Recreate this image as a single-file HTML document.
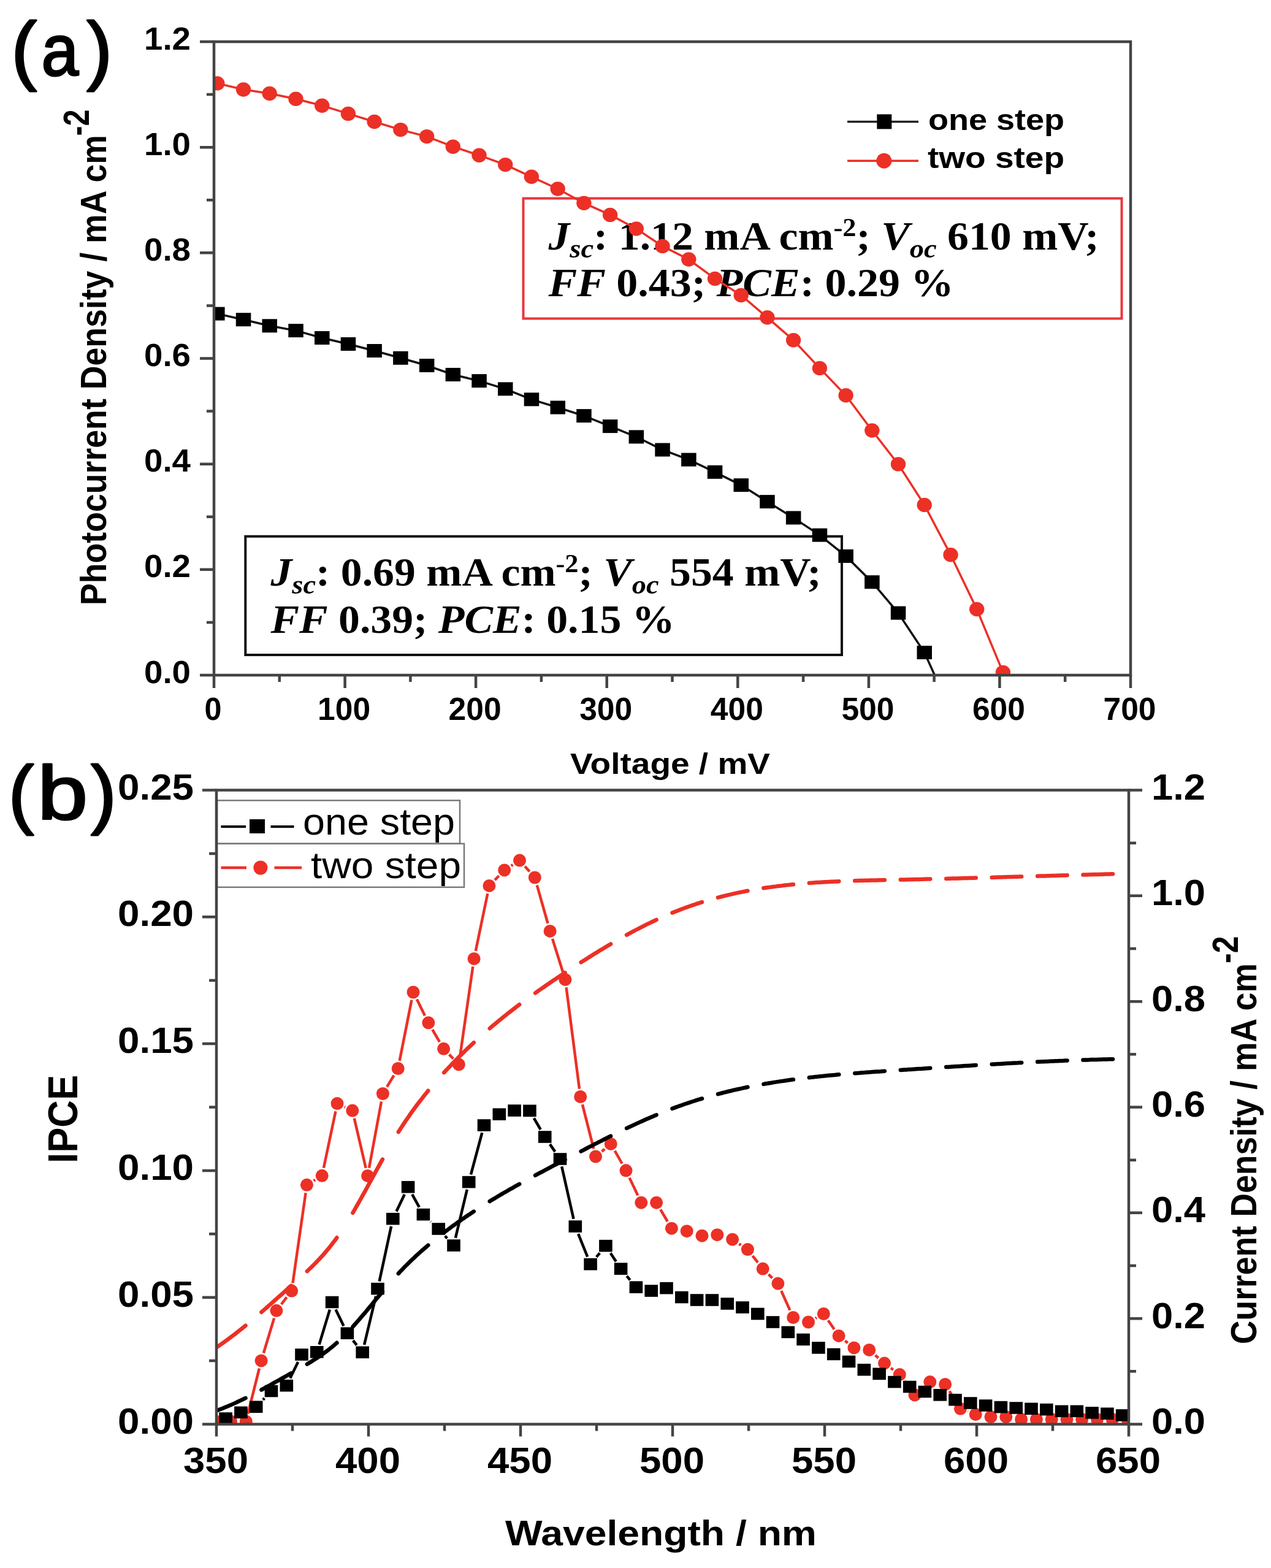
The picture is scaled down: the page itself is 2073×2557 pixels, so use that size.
<!DOCTYPE html>
<html><head><meta charset="utf-8"><title>Figure</title>
<style>html,body{margin:0;padding:0;background:#fff;}svg{display:block;}</style></head>
<body><svg width="2073" height="2557" viewBox="0 0 2073 2557">
<rect width="2073" height="2557" fill="#fff"/>
<path d="M326,1101.0H349M337,1014.9H349M326,928.8H349M337,842.8H349M326,756.7H349M337,670.6H349M326,584.5H349M337,498.4H349M326,412.3H349M337,326.3H349M326,240.2H349M337,154.1H349M326,68.0H349M349.0,1101V1122M455.8,1101V1112M562.6,1101V1122M669.4,1101V1112M776.1,1101V1122M882.9,1101V1112M989.7,1101V1122M1096.5,1101V1112M1203.3,1101V1122M1310.1,1101V1112M1416.9,1101V1122M1523.6,1101V1112M1630.4,1101V1122M1737.2,1101V1112M1844.0,1101V1122" stroke="#444" stroke-width="4.5" fill="none"/>
<rect x="853.5" y="323.5" width="976" height="196" fill="none" stroke="#e8383d" stroke-width="4"/>
<rect x="400.3" y="874.7" width="972.7" height="193.3" fill="none" stroke="#111" stroke-width="4"/>
<text x="894.5" y="406.5" font-family="'Liberation Serif', 'Times New Roman', serif" font-weight="bold" font-size="66" textLength="898" lengthAdjust="spacingAndGlyphs"><tspan font-style="italic">J</tspan><tspan font-style="italic" font-size="44" dy="13">sc</tspan><tspan dy="-13">: 1.12 mA cm</tspan><tspan font-size="42" dy="-22">-2</tspan><tspan dy="22">; </tspan><tspan font-style="italic">V</tspan><tspan font-style="italic" font-size="44" dy="13">oc</tspan><tspan dy="-13"> 610 mV;</tspan></text><text x="894.5" y="482.8" font-family="'Liberation Serif', 'Times New Roman', serif" font-weight="bold" font-size="66" textLength="661" lengthAdjust="spacingAndGlyphs"><tspan font-style="italic">FF</tspan> 0.43; <tspan font-style="italic">PCE</tspan>: 0.29 %</text>
<text x="441.5" y="954.6" font-family="'Liberation Serif', 'Times New Roman', serif" font-weight="bold" font-size="66" textLength="898" lengthAdjust="spacingAndGlyphs"><tspan font-style="italic">J</tspan><tspan font-style="italic" font-size="44" dy="13">sc</tspan><tspan dy="-13">: 0.69 mA cm</tspan><tspan font-size="42" dy="-22">-2</tspan><tspan dy="22">; </tspan><tspan font-style="italic">V</tspan><tspan font-style="italic" font-size="44" dy="13">oc</tspan><tspan dy="-13"> 554 mV;</tspan></text><text x="441.5" y="1031.9" font-family="'Liberation Serif', 'Times New Roman', serif" font-weight="bold" font-size="66" textLength="659" lengthAdjust="spacingAndGlyphs"><tspan font-style="italic">FF</tspan> 0.39; <tspan font-style="italic">PCE</tspan>: 0.15 %</text>
<defs><clipPath id="ca"><rect x="349" y="68" width="1495" height="1033"/></clipPath><clipPath id="cb"><rect x="353" y="1288.5" width="1488" height="1034"/></clipPath></defs>
<g clip-path="url(#ca)">
<polyline points="354.3,511.6 397.0,521.2 439.7,531.3 482.5,539.1 525.2,551 567.9,561 610.6,572 653.3,583.8 696.1,596 738.8,610.9 781.5,621.1 824.2,634.3 866.9,651.3 909.7,664.5 952.4,678.1 995.1,695.1 1037.8,712.4 1080.5,733.5 1123.3,749.6 1166.0,769.8 1208.7,791.1 1251.4,818.1 1294.1,844.4 1336.9,872.6 1379.6,906.9 1422.3,949.2 1465.0,999.6 1507.7,1064.1 1524,1100" fill="none" stroke="#111" stroke-width="3.5"/>
<polyline points="354.3,135.9 397.0,146 439.7,152.5 482.5,161.3 525.2,172.2 567.9,185.4 610.6,198.5 653.3,211.6 696.1,222.6 738.8,239.2 781.5,253.2 824.2,268.6 866.9,288.3 909.7,308 952.4,331.2 995.1,350.4 1037.8,373 1080.5,401.4 1123.3,423 1166.0,454.4 1208.7,481.5 1251.4,517.7 1294.1,554.8 1336.9,600.4 1379.6,644.8 1422.3,702 1465.0,756.9 1507.7,823.4 1550.5,904.8 1593.2,993.5 1635.9,1096.4" fill="none" stroke="#ec3026" stroke-width="3.5"/>
<g fill="#000"><rect x="342.1" y="500.6" width="24.5" height="22"/><rect x="384.8" y="510.2" width="24.5" height="22"/><rect x="427.5" y="520.3" width="24.5" height="22"/><rect x="470.3" y="528.1" width="24.5" height="22"/><rect x="513.0" y="540.0" width="24.5" height="22"/><rect x="555.7" y="550.0" width="24.5" height="22"/><rect x="598.4" y="561.0" width="24.5" height="22"/><rect x="641.1" y="572.8" width="24.5" height="22"/><rect x="683.9" y="585.0" width="24.5" height="22"/><rect x="726.6" y="599.9" width="24.5" height="22"/><rect x="769.3" y="610.1" width="24.5" height="22"/><rect x="812.0" y="623.3" width="24.5" height="22"/><rect x="854.7" y="640.3" width="24.5" height="22"/><rect x="897.5" y="653.5" width="24.5" height="22"/><rect x="940.2" y="667.1" width="24.5" height="22"/><rect x="982.9" y="684.1" width="24.5" height="22"/><rect x="1025.6" y="701.4" width="24.5" height="22"/><rect x="1068.3" y="722.5" width="24.5" height="22"/><rect x="1111.1" y="738.6" width="24.5" height="22"/><rect x="1153.8" y="758.8" width="24.5" height="22"/><rect x="1196.5" y="780.1" width="24.5" height="22"/><rect x="1239.2" y="807.1" width="24.5" height="22"/><rect x="1281.9" y="833.4" width="24.5" height="22"/><rect x="1324.7" y="861.6" width="24.5" height="22"/><rect x="1367.4" y="895.9" width="24.5" height="22"/><rect x="1410.1" y="938.2" width="24.5" height="22"/><rect x="1452.8" y="988.6" width="24.5" height="22"/><rect x="1495.5" y="1053.1" width="24.5" height="22"/></g>
<g fill="#ec3026"><ellipse cx="354.3" cy="135.9" rx="12.2" ry="11.7"/><ellipse cx="397.0" cy="146" rx="12.2" ry="11.7"/><ellipse cx="439.7" cy="152.5" rx="12.2" ry="11.7"/><ellipse cx="482.5" cy="161.3" rx="12.2" ry="11.7"/><ellipse cx="525.2" cy="172.2" rx="12.2" ry="11.7"/><ellipse cx="567.9" cy="185.4" rx="12.2" ry="11.7"/><ellipse cx="610.6" cy="198.5" rx="12.2" ry="11.7"/><ellipse cx="653.3" cy="211.6" rx="12.2" ry="11.7"/><ellipse cx="696.1" cy="222.6" rx="12.2" ry="11.7"/><ellipse cx="738.8" cy="239.2" rx="12.2" ry="11.7"/><ellipse cx="781.5" cy="253.2" rx="12.2" ry="11.7"/><ellipse cx="824.2" cy="268.6" rx="12.2" ry="11.7"/><ellipse cx="866.9" cy="288.3" rx="12.2" ry="11.7"/><ellipse cx="909.7" cy="308" rx="12.2" ry="11.7"/><ellipse cx="952.4" cy="331.2" rx="12.2" ry="11.7"/><ellipse cx="995.1" cy="350.4" rx="12.2" ry="11.7"/><ellipse cx="1037.8" cy="373" rx="12.2" ry="11.7"/><ellipse cx="1080.5" cy="401.4" rx="12.2" ry="11.7"/><ellipse cx="1123.3" cy="423" rx="12.2" ry="11.7"/><ellipse cx="1166.0" cy="454.4" rx="12.2" ry="11.7"/><ellipse cx="1208.7" cy="481.5" rx="12.2" ry="11.7"/><ellipse cx="1251.4" cy="517.7" rx="12.2" ry="11.7"/><ellipse cx="1294.1" cy="554.8" rx="12.2" ry="11.7"/><ellipse cx="1336.9" cy="600.4" rx="12.2" ry="11.7"/><ellipse cx="1379.6" cy="644.8" rx="12.2" ry="11.7"/><ellipse cx="1422.3" cy="702" rx="12.2" ry="11.7"/><ellipse cx="1465.0" cy="756.9" rx="12.2" ry="11.7"/><ellipse cx="1507.7" cy="823.4" rx="12.2" ry="11.7"/><ellipse cx="1550.5" cy="904.8" rx="12.2" ry="11.7"/><ellipse cx="1593.2" cy="993.5" rx="12.2" ry="11.7"/><ellipse cx="1635.9" cy="1096.4" rx="12.2" ry="11.7"/></g>
</g>
<rect x="349" y="68" width="1495" height="1033" fill="none" stroke="#444" stroke-width="4.5"/>
<path d="M1382,198.4H1498" stroke="#222" stroke-width="3.5"/><rect x="1430.3" y="186.4" width="24" height="24" fill="#000"/>
<path d="M1382,262.2H1498" stroke="#ec3026" stroke-width="3.5"/><circle cx="1441.8" cy="262.2" r="12.5" fill="#ec3026"/>
<text x="1514" y="212.2" font-family="'Liberation Sans', Arial, sans-serif" font-weight="bold" font-size="48" textLength="222" lengthAdjust="spacingAndGlyphs">one step</text>
<text x="1513" y="274.4" font-family="'Liberation Sans', Arial, sans-serif" font-weight="bold" font-size="48" textLength="223" lengthAdjust="spacingAndGlyphs">two step</text>
<text x="311" y="1113.5" text-anchor="end" font-family="'Liberation Sans', Arial, sans-serif" font-weight="bold" font-size="52" textLength="76" lengthAdjust="spacingAndGlyphs">0.0</text>
<text x="311" y="941.3" text-anchor="end" font-family="'Liberation Sans', Arial, sans-serif" font-weight="bold" font-size="52" textLength="76" lengthAdjust="spacingAndGlyphs">0.2</text>
<text x="311" y="769.2" text-anchor="end" font-family="'Liberation Sans', Arial, sans-serif" font-weight="bold" font-size="52" textLength="76" lengthAdjust="spacingAndGlyphs">0.4</text>
<text x="311" y="597.0" text-anchor="end" font-family="'Liberation Sans', Arial, sans-serif" font-weight="bold" font-size="52" textLength="76" lengthAdjust="spacingAndGlyphs">0.6</text>
<text x="311" y="424.8" text-anchor="end" font-family="'Liberation Sans', Arial, sans-serif" font-weight="bold" font-size="52" textLength="76" lengthAdjust="spacingAndGlyphs">0.8</text>
<text x="311" y="252.7" text-anchor="end" font-family="'Liberation Sans', Arial, sans-serif" font-weight="bold" font-size="52" textLength="76" lengthAdjust="spacingAndGlyphs">1.0</text>
<text x="311" y="80.5" text-anchor="end" font-family="'Liberation Sans', Arial, sans-serif" font-weight="bold" font-size="52" textLength="76" lengthAdjust="spacingAndGlyphs">1.2</text>
<text x="347.5" y="1173.5" text-anchor="middle" font-family="'Liberation Sans', Arial, sans-serif" font-weight="bold" font-size="51" textLength="28" lengthAdjust="spacingAndGlyphs">0</text>
<text x="561.1" y="1173.5" text-anchor="middle" font-family="'Liberation Sans', Arial, sans-serif" font-weight="bold" font-size="51" textLength="86" lengthAdjust="spacingAndGlyphs">100</text>
<text x="774.6" y="1173.5" text-anchor="middle" font-family="'Liberation Sans', Arial, sans-serif" font-weight="bold" font-size="51" textLength="86" lengthAdjust="spacingAndGlyphs">200</text>
<text x="988.2" y="1173.5" text-anchor="middle" font-family="'Liberation Sans', Arial, sans-serif" font-weight="bold" font-size="51" textLength="86" lengthAdjust="spacingAndGlyphs">300</text>
<text x="1201.8" y="1173.5" text-anchor="middle" font-family="'Liberation Sans', Arial, sans-serif" font-weight="bold" font-size="51" textLength="86" lengthAdjust="spacingAndGlyphs">400</text>
<text x="1415.4" y="1173.5" text-anchor="middle" font-family="'Liberation Sans', Arial, sans-serif" font-weight="bold" font-size="51" textLength="86" lengthAdjust="spacingAndGlyphs">500</text>
<text x="1628.9" y="1173.5" text-anchor="middle" font-family="'Liberation Sans', Arial, sans-serif" font-weight="bold" font-size="51" textLength="86" lengthAdjust="spacingAndGlyphs">600</text>
<text x="1842.5" y="1173.5" text-anchor="middle" font-family="'Liberation Sans', Arial, sans-serif" font-weight="bold" font-size="51" textLength="86" lengthAdjust="spacingAndGlyphs">700</text>
<text x="1093" y="1262.1" text-anchor="middle" font-family="'Liberation Sans', Arial, sans-serif" font-weight="bold" font-size="49" textLength="326" lengthAdjust="spacingAndGlyphs">Voltage / mV</text>
<text transform="translate(172.5,987) rotate(-90)" font-family="'Liberation Sans', Arial, sans-serif" font-weight="bold" font-size="59" textLength="767" lengthAdjust="spacingAndGlyphs">Photocurrent Density / mA cm</text>
<text transform="translate(144.5,221.5) rotate(-90)" font-family="'Liberation Sans', Arial, sans-serif" font-weight="bold" font-size="60" textLength="43" lengthAdjust="spacingAndGlyphs">-2</text>
<g font-family="'Liberation Sans', Arial, sans-serif" stroke="#000" stroke-width="3" stroke-linejoin="round"><text x="18.6" y="122.7" font-size="124.5">(</text><text x="67.6" y="122.5" font-size="118" textLength="60.7" lengthAdjust="spacingAndGlyphs">a</text><text x="141.6" y="122.7" font-size="124.5">)</text></g>
<path d="M330,2322.5H353M341,2219.1H353M330,2115.7H353M341,2012.3H353M330,1908.9H353M341,1805.5H353M330,1702.1H353M341,1598.7H353M330,1495.3H353M341,1391.9H353M330,1288.5H353M1841,2322.5H1863M1841,2236.3H1853M1841,2150.2H1863M1841,2064.0H1853M1841,1977.8H1863M1841,1891.7H1853M1841,1805.5H1863M1841,1719.3H1853M1841,1633.2H1863M1841,1547.0H1853M1841,1460.8H1863M1841,1374.7H1853M1841,1288.5H1863M353.0,2322.5V2342.5M477.0,2322.5V2333.5M601.0,2322.5V2342.5M725.0,2322.5V2333.5M849.0,2322.5V2342.5M973.0,2322.5V2333.5M1097.0,2322.5V2342.5M1221.0,2322.5V2333.5M1345.0,2322.5V2342.5M1469.0,2322.5V2333.5M1593.0,2322.5V2342.5M1717.0,2322.5V2333.5M1841.0,2322.5V2342.5" stroke="#444" stroke-width="4.5" fill="none"/>
<rect x="354" y="1305.3" width="396" height="70.5" fill="none" stroke="#7a7a7a" stroke-width="2.5"/>
<rect x="354" y="1375.8" width="403" height="71" fill="none" stroke="#7a7a7a" stroke-width="2.5"/>
<g clip-path="url(#cb)">
<path d="M404.4,2305.4L422.9,2231.5M429.9,2206.5L447.1,2149.7M458.8,2127.0L467.7,2115.4M477.5,2092.2L498.6,1945.2M511.6,1925.6L514.1,1924.0M527.9,1904.6L547.4,1812.3M561.8,1805.1L563.0,1805.6M577.8,1823.8L596.7,1904.7M602.0,1904.6L622.0,1796.3M631.1,1772.4L642.5,1753.6M651.7,1729.8L671.4,1630.7M679.8,1629.6L693.0,1656.2M705.3,1679.0L717.0,1699.1M732.6,1719.6L739.3,1726.5M750.2,1722.9L771.3,1576.3M775.8,1550.7L795.3,1457.1M807.0,1435.1L813.7,1428.2M833.7,1411.9L836.5,1410.1M856.1,1412.8L863.7,1421.3M875.8,1443.5L893.5,1505.9M901.0,1530.8L918.0,1585.0M923.6,1610.3L945.0,1775.6M949.9,1801.1L968.3,1873.4M981.5,1877.7L986.3,1873.7M1002.7,1876.7L1014.6,1897.5M1026.6,1920.6L1040.3,1949.4M1077.2,1972.4L1088.8,1992.0M1205.4,2028.4L1208.5,2030.4M1227.4,2047.8L1236.1,2058.9M1253.5,2078.1L1259.6,2084.1M1274.2,2105.0L1288.4,2136.6M1329.9,2149.8L1331.9,2148.7M1350.7,2153.2L1360.7,2167.7M1378.3,2186.4L1382.7,2189.9M1427.5,2210.0L1432.7,2214.5M1452.9,2230.9L1456.8,2233.8M1475.0,2252.0L1484.3,2264.4M1501.9,2266.4L1507.0,2262.0M1548.5,2268.5L1559.5,2286.3M1578.6,2301.8L1579.0,2302.0" fill="none" stroke="#ec3026" stroke-width="4.5"/>
<path d="M428.9,2282.6L431.3,2280.1M473.2,2247.6L486.1,2221.0M520.6,2192.6L537.9,2135.7M547.5,2135.5L560.5,2162.2M575.8,2186.0L581.8,2193.5M594.1,2193.1L613.1,2113.8M618.7,2089.4L638.1,1999.8M646.5,1975.5L659.8,1947.8M672.2,1947.7L683.8,1968.6M702.6,1992.1L703.0,1992.5M725.8,2015.6L729.3,2019.4M742.9,2018.8L761.8,1939.8M768.0,1915.4L786.3,1847.2M870.8,1823.3L881.7,1842.0M896.9,1865.9L905.3,1878.1M916.2,1902.2L935.5,1987.8M943.1,2012.1L958.2,2049.5M972.8,2049.9L978.2,2043.3M995.7,2043.5L1004.8,2057.2M1022.3,2080.8L1027.7,2087.4" fill="none" stroke="#000" stroke-width="4.5"/>
<g fill="#ec3026"><circle cx="351.7" cy="2318" r="10.5"/><circle cx="376.5" cy="2318" r="10.5"/><circle cx="401.3" cy="2318" r="10.5"/><circle cx="426.1" cy="2218.9" r="10.5"/><circle cx="450.9" cy="2137.3" r="10.5"/><circle cx="475.7" cy="2105.1" r="10.5"/><circle cx="500.4" cy="1932.3" r="10.5"/><circle cx="525.2" cy="1917.3" r="10.5"/><circle cx="550.0" cy="1799.6" r="10.5"/><circle cx="574.8" cy="1811.1" r="10.5"/><circle cx="599.6" cy="1917.4" r="10.5"/><circle cx="624.4" cy="1783.5" r="10.5"/><circle cx="649.2" cy="1742.5" r="10.5"/><circle cx="674.0" cy="1618" r="10.5"/><circle cx="698.8" cy="1667.8" r="10.5"/><circle cx="723.6" cy="1710.3" r="10.5"/><circle cx="748.3" cy="1735.8" r="10.5"/><circle cx="773.1" cy="1563.4" r="10.5"/><circle cx="797.9" cy="1444.4" r="10.5"/><circle cx="822.7" cy="1418.9" r="10.5"/><circle cx="847.5" cy="1403.1" r="10.5"/><circle cx="872.3" cy="1431" r="10.5"/><circle cx="897.1" cy="1518.4" r="10.5"/><circle cx="921.9" cy="1597.4" r="10.5"/><circle cx="946.7" cy="1788.5" r="10.5"/><circle cx="971.5" cy="1886" r="10.5"/><circle cx="996.2" cy="1865.4" r="10.5"/><circle cx="1021.0" cy="1908.8" r="10.5"/><circle cx="1045.8" cy="1961.2" r="10.5"/><circle cx="1070.6" cy="1961.2" r="10.5"/><circle cx="1095.4" cy="2003.2" r="10.5"/><circle cx="1120.2" cy="2007.7" r="10.5"/><circle cx="1145.0" cy="2015.2" r="10.5"/><circle cx="1169.8" cy="2013.7" r="10.5"/><circle cx="1194.6" cy="2021.2" r="10.5"/><circle cx="1219.4" cy="2037.6" r="10.5"/><circle cx="1244.2" cy="2069.1" r="10.5"/><circle cx="1268.9" cy="2093.1" r="10.5"/><circle cx="1293.7" cy="2148.5" r="10.5"/><circle cx="1318.5" cy="2156" r="10.5"/><circle cx="1343.3" cy="2142.5" r="10.5"/><circle cx="1368.1" cy="2178.4" r="10.5"/><circle cx="1392.9" cy="2197.9" r="10.5"/><circle cx="1417.7" cy="2201.4" r="10.5"/><circle cx="1442.5" cy="2223.1" r="10.5"/><circle cx="1467.3" cy="2241.6" r="10.5"/><circle cx="1492.0" cy="2274.8" r="10.5"/><circle cx="1516.8" cy="2253.6" r="10.5"/><circle cx="1541.6" cy="2257.5" r="10.5"/><circle cx="1566.4" cy="2297.3" r="10.5"/><circle cx="1591.2" cy="2306.5" r="10.5"/><circle cx="1616.0" cy="2310.5" r="10.5"/><circle cx="1640.8" cy="2310.5" r="10.5"/><circle cx="1665.6" cy="2314.5" r="10.5"/><circle cx="1690.4" cy="2314.5" r="10.5"/><circle cx="1715.2" cy="2314.5" r="10.5"/><circle cx="1740.0" cy="2314.5" r="10.5"/><circle cx="1764.7" cy="2314.5" r="10.5"/><circle cx="1789.5" cy="2314.5" r="10.5"/><circle cx="1814.3" cy="2314.5" r="10.5"/><circle cx="1839.1" cy="2314.5" r="10.5"/></g>
<g fill="#000"><rect x="357.3" y="2303.2" width="21.6" height="19.6"/><rect x="382.1" y="2293.5" width="21.6" height="19.6"/><rect x="406.9" y="2284.4" width="21.6" height="19.6"/><rect x="431.7" y="2258.7" width="21.6" height="19.6"/><rect x="456.5" y="2249.8" width="21.6" height="19.6"/><rect x="481.2" y="2199.2" width="21.6" height="19.6"/><rect x="506.0" y="2195.0" width="21.6" height="19.6"/><rect x="530.8" y="2113.7" width="21.6" height="19.6"/><rect x="555.6" y="2164.4" width="21.6" height="19.6"/><rect x="580.4" y="2195.5" width="21.6" height="19.6"/><rect x="605.2" y="2091.8" width="21.6" height="19.6"/><rect x="630.0" y="1977.8" width="21.6" height="19.6"/><rect x="654.8" y="1925.9" width="21.6" height="19.6"/><rect x="679.6" y="1970.8" width="21.6" height="19.6"/><rect x="704.4" y="1994.2" width="21.6" height="19.6"/><rect x="729.2" y="2021.2" width="21.6" height="19.6"/><rect x="753.9" y="1917.8" width="21.6" height="19.6"/><rect x="778.7" y="1825.2" width="21.6" height="19.6"/><rect x="803.5" y="1807.3" width="21.6" height="19.6"/><rect x="828.3" y="1801.2" width="21.6" height="19.6"/><rect x="853.1" y="1801.5" width="21.6" height="19.6"/><rect x="877.9" y="1844.2" width="21.6" height="19.6"/><rect x="902.7" y="1880.2" width="21.6" height="19.6"/><rect x="927.5" y="1990.2" width="21.6" height="19.6"/><rect x="952.3" y="2051.8" width="21.6" height="19.6"/><rect x="977.1" y="2021.8" width="21.6" height="19.6"/><rect x="1001.8" y="2059.3" width="21.6" height="19.6"/><rect x="1026.6" y="2089.3" width="21.6" height="19.6"/><rect x="1051.4" y="2095.2" width="21.6" height="19.6"/><rect x="1076.2" y="2090.8" width="21.6" height="19.6"/><rect x="1101.0" y="2105.7" width="21.6" height="19.6"/><rect x="1125.8" y="2110.2" width="21.6" height="19.6"/><rect x="1150.6" y="2110.2" width="21.6" height="19.6"/><rect x="1175.4" y="2116.2" width="21.6" height="19.6"/><rect x="1200.2" y="2122.2" width="21.6" height="19.6"/><rect x="1225.0" y="2132.7" width="21.6" height="19.6"/><rect x="1249.7" y="2146.2" width="21.6" height="19.6"/><rect x="1274.5" y="2162.6" width="21.6" height="19.6"/><rect x="1299.3" y="2174.6" width="21.6" height="19.6"/><rect x="1324.1" y="2188.1" width="21.6" height="19.6"/><rect x="1348.9" y="2198.6" width="21.6" height="19.6"/><rect x="1373.7" y="2210.6" width="21.6" height="19.6"/><rect x="1398.5" y="2223.9" width="21.6" height="19.6"/><rect x="1423.3" y="2230.5" width="21.6" height="19.6"/><rect x="1448.1" y="2243.8" width="21.6" height="19.6"/><rect x="1472.9" y="2251.7" width="21.6" height="19.6"/><rect x="1497.6" y="2259.7" width="21.6" height="19.6"/><rect x="1522.4" y="2265.0" width="21.6" height="19.6"/><rect x="1547.2" y="2272.9" width="21.6" height="19.6"/><rect x="1572.0" y="2278.2" width="21.6" height="19.6"/><rect x="1596.8" y="2282.2" width="21.6" height="19.6"/><rect x="1621.6" y="2284.8" width="21.6" height="19.6"/><rect x="1646.4" y="2286.2" width="21.6" height="19.6"/><rect x="1671.2" y="2287.5" width="21.6" height="19.6"/><rect x="1696.0" y="2288.8" width="21.6" height="19.6"/><rect x="1720.8" y="2291.5" width="21.6" height="19.6"/><rect x="1745.5" y="2291.5" width="21.6" height="19.6"/><rect x="1770.3" y="2294.1" width="21.6" height="19.6"/><rect x="1795.1" y="2295.4" width="21.6" height="19.6"/><rect x="1819.9" y="2298.1" width="21.6" height="19.6"/></g>
</g>
<g clip-path="url(#cb)">
<path d="M353.5,2300.3 L356.9,2299.1 L360.2,2297.8 L363.6,2296.5 L366.9,2295.1 L370.3,2293.7 L373.6,2292.3 L377.0,2290.9 L380.4,2289.4 L383.7,2287.9 L387.1,2286.3 L390.4,2284.7 L393.8,2283.1 L397.1,2281.5 L400.5,2279.9M426.4,2266.4 L429.7,2264.6 L432.9,2262.9 L436.1,2261.1 L439.4,2259.3 L442.6,2257.5 L445.8,2255.7 L449.1,2253.9 L452.3,2252.1 L455.6,2250.3 L458.8,2248.4 L462.0,2246.6 L465.2,2244.8 L468.5,2243.0 L471.7,2241.1 L474.9,2239.3M500.9,2224.5 L504.1,2222.6 L507.4,2220.6 L510.6,2218.6 L513.8,2216.6 L517.1,2214.5 L520.3,2212.3 L523.5,2210.1 L526.8,2207.8 L530.0,2205.5 L533.2,2203.1 L536.5,2200.6 L539.7,2198.0 L542.9,2195.4 L546.2,2192.6 L549.4,2189.8M575.4,2163.6 L578.6,2160.0 L581.8,2156.4 L585.1,2152.7 L588.3,2148.9 L591.5,2145.1 L594.8,2141.3 L598.0,2137.5 L601.2,2133.6 L604.5,2129.7 L607.7,2125.8 L610.9,2121.9 L614.1,2118.0 L617.4,2114.2 L620.6,2110.3 L623.9,2106.4M649.8,2076.8 L653.0,2073.3 L656.3,2069.9 L659.5,2066.6 L662.7,2063.3 L666.0,2060.1 L669.2,2056.9 L672.4,2053.8 L675.7,2050.8 L678.9,2047.7 L682.1,2044.8 L685.4,2041.9 L688.6,2039.0 L691.8,2036.2 L695.1,2033.4 L698.3,2030.6M724.2,2009.9 L727.5,2007.4 L730.7,2005.0 L734.0,2002.6 L737.2,2000.2 L740.4,1997.9 L743.6,1995.6 L746.9,1993.2 L750.1,1991.0 L753.4,1988.7 L756.6,1986.5 L759.8,1984.2 L763.0,1982.0 L766.3,1979.9 L769.5,1977.7 L772.8,1975.6M798.7,1959.1 L801.9,1957.1 L805.2,1955.1 L808.4,1953.2 L811.6,1951.3 L814.9,1949.3 L818.1,1947.4 L821.3,1945.5 L824.6,1943.7 L827.8,1941.8 L831.0,1939.9 L834.3,1938.1 L837.5,1936.3 L840.7,1934.4 L844.0,1932.6 L847.2,1930.8M873.1,1916.7 L876.4,1914.9 L879.6,1913.2 L882.9,1911.5 L886.1,1909.8 L889.3,1908.0 L892.5,1906.3 L895.8,1904.6 L899.0,1902.9 L902.2,1901.2 L905.5,1899.5 L908.7,1897.8 L911.9,1896.1 L915.2,1894.4 L918.4,1892.7 L921.6,1891.0M947.6,1877.5 L950.8,1875.8 L954.1,1874.1 L957.3,1872.4 L960.5,1870.7 L963.8,1869.1 L967.0,1867.4 L970.2,1865.7 L973.5,1864.1 L976.7,1862.4 L979.9,1860.8 L983.2,1859.1 L986.4,1857.5 L989.6,1855.9 L992.9,1854.2 L996.1,1852.6M1022.1,1839.9 L1025.3,1838.4 L1028.5,1836.9 L1031.8,1835.4 L1035.0,1833.9 L1038.2,1832.4 L1041.5,1830.9 L1044.7,1829.4 L1047.9,1828.0 L1051.2,1826.5 L1054.4,1825.1 L1057.6,1823.7 L1060.9,1822.3 L1064.1,1820.9 L1067.3,1819.5 L1070.6,1818.2M1096.5,1807.8 L1099.7,1806.6 L1103.0,1805.4 L1106.2,1804.3 L1109.4,1803.1 L1112.7,1802.0 L1115.9,1800.8 L1119.1,1799.7 L1122.4,1798.6 L1125.6,1797.6 L1128.8,1796.5 L1132.1,1795.5 L1135.3,1794.4 L1138.5,1793.4 L1141.8,1792.4 L1145.0,1791.5M1171.0,1784.1 L1174.2,1783.3 L1177.4,1782.5 L1180.7,1781.6 L1183.9,1780.8 L1187.1,1780.0 L1190.4,1779.3 L1193.6,1778.5 L1196.8,1777.7 L1200.0,1777.0 L1203.3,1776.3 L1206.5,1775.6 L1209.8,1774.9 L1213.0,1774.2 L1216.2,1773.5 L1219.5,1772.8M1245.4,1767.9 L1248.6,1767.3 L1251.9,1766.8 L1255.1,1766.2 L1258.3,1765.7 L1261.6,1765.1 L1264.8,1764.6 L1268.0,1764.1 L1271.3,1763.6 L1274.5,1763.1 L1277.7,1762.7 L1281.0,1762.2 L1284.2,1761.7 L1287.4,1761.3 L1290.7,1760.8 L1293.9,1760.4M1319.8,1757.2 L1323.1,1756.8 L1326.3,1756.5 L1329.5,1756.1 L1332.8,1755.8 L1336.0,1755.4 L1339.2,1755.1 L1342.5,1754.8 L1345.7,1754.4 L1348.9,1754.1 L1352.2,1753.8 L1355.4,1753.5 L1358.6,1753.2 L1361.9,1752.9 L1365.1,1752.6 L1368.3,1752.3M1394.3,1750.2 L1397.5,1749.9 L1400.8,1749.7 L1404.0,1749.4 L1407.2,1749.2 L1410.5,1749.0 L1413.7,1748.7 L1416.9,1748.5 L1420.2,1748.3 L1423.4,1748.0 L1426.6,1747.8 L1429.9,1747.6 L1433.1,1747.4 L1436.3,1747.2 L1439.6,1746.9 L1442.8,1746.7M1468.8,1745.0 L1472.0,1744.8 L1475.2,1744.6 L1478.5,1744.4 L1481.7,1744.1 L1484.9,1743.9 L1488.2,1743.7 L1491.4,1743.5 L1494.6,1743.3 L1497.8,1743.1 L1501.1,1742.9 L1504.3,1742.7 L1507.5,1742.4 L1510.8,1742.2 L1514.0,1742.0 L1517.2,1741.8M1543.2,1740.1 L1546.4,1739.9 L1549.7,1739.7 L1552.9,1739.5 L1556.1,1739.3 L1559.4,1739.1 L1562.6,1738.9 L1565.8,1738.7 L1569.1,1738.5 L1572.3,1738.3 L1575.5,1738.1 L1578.8,1737.9 L1582.0,1737.7 L1585.2,1737.5 L1588.5,1737.3 L1591.7,1737.1M1617.7,1735.6 L1620.9,1735.4 L1624.1,1735.2 L1627.4,1735.0 L1630.6,1734.9 L1633.8,1734.7 L1637.1,1734.5 L1640.3,1734.3 L1643.5,1734.1 L1646.8,1734.0 L1650.0,1733.8 L1653.2,1733.6 L1656.5,1733.4 L1659.7,1733.3 L1662.9,1733.1 L1666.2,1732.9M1692.1,1731.6 L1695.3,1731.5 L1698.6,1731.3 L1701.8,1731.2 L1705.0,1731.0 L1708.3,1730.9 L1711.5,1730.7 L1714.7,1730.6 L1718.0,1730.5 L1721.2,1730.3 L1724.4,1730.2 L1727.7,1730.0 L1730.9,1729.9 L1734.1,1729.8 L1737.4,1729.6 L1740.6,1729.5M1766.5,1728.6 L1769.8,1728.5 L1773.0,1728.4 L1776.2,1728.3 L1779.5,1728.1 L1782.7,1728.1 L1786.0,1728.0 L1789.2,1727.9 L1792.4,1727.8 L1795.6,1727.7 L1798.9,1727.6 L1802.1,1727.5 L1805.3,1727.4 L1808.6,1727.3 L1811.8,1727.3 L1815.0,1727.2" fill="none" stroke="#000" stroke-width="6.5" stroke-linecap="round" stroke-linejoin="round"/>
<path d="M353.5,2197.0 L356.9,2194.7 L360.2,2192.4 L363.6,2190.0 L366.9,2187.6 L370.3,2185.2 L373.6,2182.7 L377.0,2180.2 L380.4,2177.6 L383.7,2175.1 L387.1,2172.4 L390.4,2169.8 L393.8,2167.1 L397.1,2164.4 L400.5,2161.7M426.4,2139.8 L429.7,2136.9 L432.9,2134.1 L436.1,2131.3 L439.4,2128.4 L442.6,2125.6 L445.8,2122.7 L449.1,2119.8 L452.3,2116.9 L455.6,2114.0 L458.8,2111.2 L462.0,2108.3 L465.2,2105.4 L468.5,2102.4 L471.7,2099.5 L474.9,2096.6M500.9,2073.1 L504.1,2070.0 L507.4,2066.9 L510.6,2063.7 L513.8,2060.4 L517.1,2057.1 L520.3,2053.7 L523.5,2050.2 L526.8,2046.7 L530.0,2043.0 L533.2,2039.2 L536.5,2035.3 L539.7,2031.2 L542.9,2027.1 L546.2,2022.8 L549.4,2018.3M575.4,1977.8 L578.6,1972.3 L581.8,1966.6 L585.1,1961.0 L588.3,1955.2 L591.5,1949.4 L594.8,1943.6 L598.0,1937.7 L601.2,1931.8 L604.5,1925.9 L607.7,1920.0 L610.9,1914.1 L614.1,1908.2 L617.4,1902.3 L620.6,1896.4 L623.9,1890.6M649.8,1846.1 L653.0,1841.0 L656.3,1836.0 L659.5,1831.1 L662.7,1826.3 L666.0,1821.6 L669.2,1816.9 L672.4,1812.4 L675.7,1807.9 L678.9,1803.5 L682.1,1799.2 L685.4,1795.0 L688.6,1790.9 L691.8,1786.8 L695.1,1782.8 L698.3,1778.8M724.2,1749.1 L727.5,1745.6 L730.7,1742.1 L734.0,1738.7 L737.2,1735.3 L740.4,1731.9 L743.6,1728.6 L746.9,1725.3 L750.1,1722.0 L753.4,1718.8 L756.6,1715.6 L759.8,1712.5 L763.0,1709.4 L766.3,1706.3 L769.5,1703.3 L772.8,1700.2M798.7,1677.1 L801.9,1674.3 L805.2,1671.6 L808.4,1668.9 L811.6,1666.2 L814.9,1663.5 L818.1,1660.9 L821.3,1658.3 L824.6,1655.7 L827.8,1653.1 L831.0,1650.6 L834.3,1648.1 L837.5,1645.6 L840.7,1643.1 L844.0,1640.6 L847.2,1638.2M873.1,1619.3 L876.4,1617.0 L879.6,1614.7 L882.9,1612.4 L886.1,1610.2 L889.3,1608.0 L892.5,1605.7 L895.8,1603.5 L899.0,1601.3 L902.2,1599.1 L905.5,1597.0 L908.7,1594.8 L911.9,1592.6 L915.2,1590.5 L918.4,1588.3 L921.6,1586.2M947.6,1569.3 L950.8,1567.3 L954.1,1565.2 L957.3,1563.2 L960.5,1561.1 L963.8,1559.1 L967.0,1557.1 L970.2,1555.1 L973.5,1553.1 L976.7,1551.1 L979.9,1549.1 L983.2,1547.2 L986.4,1545.2 L989.6,1543.3 L992.9,1541.4 L996.1,1539.5M1022.1,1524.7 L1025.3,1522.9 L1028.5,1521.1 L1031.8,1519.4 L1035.0,1517.7 L1038.2,1516.0 L1041.5,1514.3 L1044.7,1512.6 L1047.9,1511.0 L1051.2,1509.3 L1054.4,1507.7 L1057.6,1506.1 L1060.9,1504.6 L1064.1,1503.0 L1067.3,1501.5 L1070.6,1500.0M1096.5,1488.6 L1099.7,1487.3 L1103.0,1486.0 L1106.2,1484.7 L1109.4,1483.4 L1112.7,1482.2 L1115.9,1481.0 L1119.1,1479.8 L1122.4,1478.7 L1125.6,1477.5 L1128.8,1476.4 L1132.1,1475.3 L1135.3,1474.2 L1138.5,1473.2 L1141.8,1472.1 L1145.0,1471.1M1171.0,1463.6 L1174.2,1462.8 L1177.4,1462.0 L1180.7,1461.2 L1183.9,1460.4 L1187.1,1459.6 L1190.4,1458.8 L1193.6,1458.1 L1196.8,1457.3 L1200.0,1456.6 L1203.3,1455.9 L1206.5,1455.3 L1209.8,1454.6 L1213.0,1454.0 L1216.2,1453.3 L1219.5,1452.7M1245.4,1448.3 L1248.6,1447.8 L1251.9,1447.3 L1255.1,1446.9 L1258.3,1446.4 L1261.6,1446.0 L1264.8,1445.6 L1268.0,1445.1 L1271.3,1444.7 L1274.5,1444.4 L1277.7,1444.0 L1281.0,1443.6 L1284.2,1443.3 L1287.4,1442.9 L1290.7,1442.6 L1293.9,1442.3M1319.8,1440.0 L1323.1,1439.8 L1326.3,1439.6 L1329.5,1439.3 L1332.8,1439.1 L1336.0,1438.9 L1339.2,1438.7 L1342.5,1438.5 L1345.7,1438.3 L1348.9,1438.2 L1352.2,1438.0 L1355.4,1437.8 L1358.6,1437.7 L1361.9,1437.5 L1365.1,1437.4 L1368.3,1437.2M1394.3,1436.3 L1397.5,1436.2 L1400.8,1436.1 L1404.0,1436.0 L1407.2,1435.9 L1410.5,1435.8 L1413.7,1435.7 L1416.9,1435.7 L1420.2,1435.6 L1423.4,1435.5 L1426.6,1435.4 L1429.9,1435.4 L1433.1,1435.3 L1436.3,1435.2 L1439.6,1435.2 L1442.8,1435.1M1468.8,1434.6 L1472.0,1434.5 L1475.2,1434.4 L1478.5,1434.4 L1481.7,1434.3 L1484.9,1434.2 L1488.2,1434.2 L1491.4,1434.1 L1494.6,1434.0 L1497.8,1433.9 L1501.1,1433.9 L1504.3,1433.8 L1507.5,1433.7 L1510.8,1433.6 L1514.0,1433.6 L1517.2,1433.5M1543.2,1432.9 L1546.4,1432.8 L1549.7,1432.7 L1552.9,1432.6 L1556.1,1432.5 L1559.4,1432.4 L1562.6,1432.4 L1565.8,1432.3 L1569.1,1432.2 L1572.3,1432.1 L1575.5,1432.0 L1578.8,1431.9 L1582.0,1431.8 L1585.2,1431.8 L1588.5,1431.7 L1591.7,1431.6M1617.7,1430.9 L1620.9,1430.8 L1624.1,1430.7 L1627.4,1430.6 L1630.6,1430.5 L1633.8,1430.4 L1637.1,1430.3 L1640.3,1430.2 L1643.5,1430.1 L1646.8,1430.0 L1650.0,1429.9 L1653.2,1429.8 L1656.5,1429.8 L1659.7,1429.7 L1662.9,1429.6 L1666.2,1429.5M1692.1,1428.7 L1695.3,1428.6 L1698.6,1428.5 L1701.8,1428.4 L1705.0,1428.4 L1708.3,1428.3 L1711.5,1428.2 L1714.7,1428.1 L1718.0,1428.0 L1721.2,1427.9 L1724.4,1427.8 L1727.7,1427.7 L1730.9,1427.6 L1734.1,1427.5 L1737.4,1427.4 L1740.6,1427.3M1766.5,1426.6 L1769.8,1426.5 L1773.0,1426.4 L1776.2,1426.3 L1779.5,1426.2 L1782.7,1426.1 L1786.0,1426.1 L1789.2,1426.0 L1792.4,1425.9 L1795.6,1425.8 L1798.9,1425.7 L1802.1,1425.6 L1805.3,1425.5 L1808.6,1425.4 L1811.8,1425.3 L1815.0,1425.3" fill="none" stroke="#ec3026" stroke-width="6.5" stroke-linecap="round" stroke-linejoin="round"/>
</g>
<rect x="353" y="1288.5" width="1488" height="1034.0" fill="none" stroke="#444" stroke-width="4.5"/>
<path d="M360.5,1348H401M441.5,1348H479.5" stroke="#000" stroke-width="4"/><rect x="407" y="1336" width="25" height="23" fill="#000"/>
<path d="M360.5,1415H402M447.5,1415H492" stroke="#ec3026" stroke-width="4.5"/><circle cx="424.9" cy="1415" r="11.5" fill="#ec3026"/>
<text x="494" y="1361.1" font-family="'Liberation Sans', Arial, sans-serif" font-size="61" textLength="248" lengthAdjust="spacingAndGlyphs">one step</text>
<text x="507" y="1431.6" font-family="'Liberation Sans', Arial, sans-serif" font-size="61" textLength="245" lengthAdjust="spacingAndGlyphs">two step</text>
<text x="316" y="2337.5" text-anchor="end" font-family="'Liberation Sans', Arial, sans-serif" font-weight="bold" font-size="59" textLength="124" lengthAdjust="spacingAndGlyphs">0.00</text>
<text x="316" y="2130.7" text-anchor="end" font-family="'Liberation Sans', Arial, sans-serif" font-weight="bold" font-size="59" textLength="124" lengthAdjust="spacingAndGlyphs">0.05</text>
<text x="316" y="1923.9" text-anchor="end" font-family="'Liberation Sans', Arial, sans-serif" font-weight="bold" font-size="59" textLength="124" lengthAdjust="spacingAndGlyphs">0.10</text>
<text x="316" y="1717.1" text-anchor="end" font-family="'Liberation Sans', Arial, sans-serif" font-weight="bold" font-size="59" textLength="124" lengthAdjust="spacingAndGlyphs">0.15</text>
<text x="316" y="1510.3" text-anchor="end" font-family="'Liberation Sans', Arial, sans-serif" font-weight="bold" font-size="59" textLength="124" lengthAdjust="spacingAndGlyphs">0.20</text>
<text x="316" y="1303.5" text-anchor="end" font-family="'Liberation Sans', Arial, sans-serif" font-weight="bold" font-size="59" textLength="124" lengthAdjust="spacingAndGlyphs">0.25</text>
<text x="1878" y="2338.0" font-family="'Liberation Sans', Arial, sans-serif" font-weight="bold" font-size="59" textLength="88" lengthAdjust="spacingAndGlyphs">0.0</text>
<text x="1878" y="2165.7" font-family="'Liberation Sans', Arial, sans-serif" font-weight="bold" font-size="59" textLength="88" lengthAdjust="spacingAndGlyphs">0.2</text>
<text x="1878" y="1993.3" font-family="'Liberation Sans', Arial, sans-serif" font-weight="bold" font-size="59" textLength="88" lengthAdjust="spacingAndGlyphs">0.4</text>
<text x="1878" y="1821.0" font-family="'Liberation Sans', Arial, sans-serif" font-weight="bold" font-size="59" textLength="88" lengthAdjust="spacingAndGlyphs">0.6</text>
<text x="1878" y="1648.7" font-family="'Liberation Sans', Arial, sans-serif" font-weight="bold" font-size="59" textLength="88" lengthAdjust="spacingAndGlyphs">0.8</text>
<text x="1878" y="1476.3" font-family="'Liberation Sans', Arial, sans-serif" font-weight="bold" font-size="59" textLength="88" lengthAdjust="spacingAndGlyphs">1.0</text>
<text x="1878" y="1304.0" font-family="'Liberation Sans', Arial, sans-serif" font-weight="bold" font-size="59" textLength="88" lengthAdjust="spacingAndGlyphs">1.2</text>
<text x="352.0" y="2401.5" text-anchor="middle" font-family="'Liberation Sans', Arial, sans-serif" font-weight="bold" font-size="59" textLength="106" lengthAdjust="spacingAndGlyphs">350</text>
<text x="600.0" y="2401.5" text-anchor="middle" font-family="'Liberation Sans', Arial, sans-serif" font-weight="bold" font-size="59" textLength="106" lengthAdjust="spacingAndGlyphs">400</text>
<text x="848.0" y="2401.5" text-anchor="middle" font-family="'Liberation Sans', Arial, sans-serif" font-weight="bold" font-size="59" textLength="106" lengthAdjust="spacingAndGlyphs">450</text>
<text x="1096.0" y="2401.5" text-anchor="middle" font-family="'Liberation Sans', Arial, sans-serif" font-weight="bold" font-size="59" textLength="106" lengthAdjust="spacingAndGlyphs">500</text>
<text x="1344.0" y="2401.5" text-anchor="middle" font-family="'Liberation Sans', Arial, sans-serif" font-weight="bold" font-size="59" textLength="106" lengthAdjust="spacingAndGlyphs">550</text>
<text x="1592.0" y="2401.5" text-anchor="middle" font-family="'Liberation Sans', Arial, sans-serif" font-weight="bold" font-size="59" textLength="106" lengthAdjust="spacingAndGlyphs">600</text>
<text x="1840.0" y="2401.5" text-anchor="middle" font-family="'Liberation Sans', Arial, sans-serif" font-weight="bold" font-size="59" textLength="106" lengthAdjust="spacingAndGlyphs">650</text>
<text x="1078" y="2519.7" text-anchor="middle" font-family="'Liberation Sans', Arial, sans-serif" font-weight="bold" font-size="58" textLength="508" lengthAdjust="spacingAndGlyphs">Wavelength / nm</text>
<text transform="translate(126,1897) rotate(-90)" font-family="'Liberation Sans', Arial, sans-serif" font-weight="bold" font-size="69" textLength="144.2" lengthAdjust="spacingAndGlyphs">IPCE</text>
<text transform="translate(2048.5,2192) rotate(-90)" font-family="'Liberation Sans', Arial, sans-serif" font-weight="bold" font-size="59" textLength="621" lengthAdjust="spacingAndGlyphs">Current Density / mA cm</text>
<text transform="translate(2019,1571) rotate(-90)" font-family="'Liberation Sans', Arial, sans-serif" font-weight="bold" font-size="59" textLength="44.5" lengthAdjust="spacingAndGlyphs">-2</text>
<g font-family="'Liberation Sans', Arial, sans-serif" stroke="#000" stroke-width="3" stroke-linejoin="round"><text x="13.7" y="1335.6" font-size="124.5">(</text><text x="61.1" y="1336" font-size="124.9" textLength="82.2" lengthAdjust="spacingAndGlyphs">b</text><text x="148.2" y="1335.6" font-size="124.5">)</text></g>
</svg></body></html>
